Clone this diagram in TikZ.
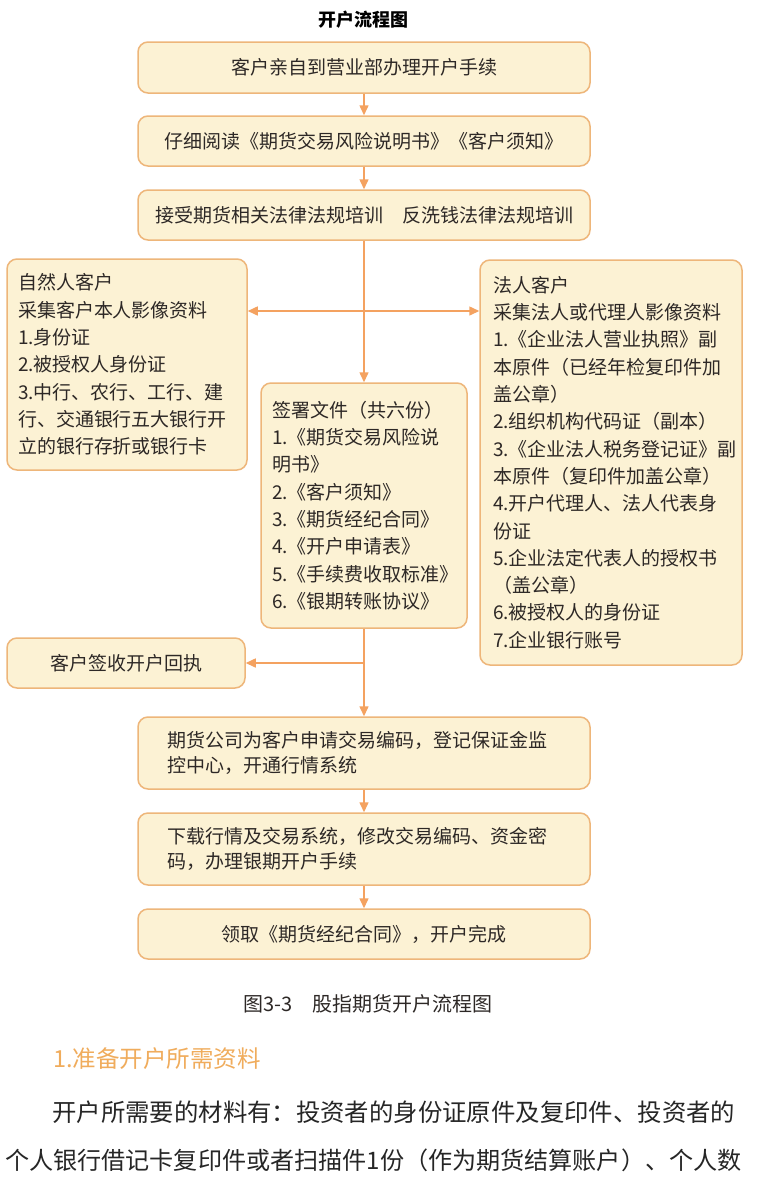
\documentclass[tikz,border=0pt]{standalone}
\usepackage{fontspec}
\setmainfont{Noto Sans CJK SC}
\usetikzlibrary{arrows.meta}
\definecolor{boxfill}{RGB}{252,242,212}
\definecolor{boxline}{RGB}{238,182,122}
\definecolor{arrowc}{RGB}{244,162,96}
\definecolor{txt}{RGB}{45,40,38}
\definecolor{headc}{RGB}{240,172,92}
\begin{document}
\begin{tikzpicture}[x=1pt,y=-1pt,
  box/.style={draw=boxline, fill=boxfill, line width=1.5pt, rounded corners=10pt,
    text=txt, font=\fontsize{19}{27.3}\selectfont, inner sep=0pt},
  arr/.style={draw=arrowc, line width=1.5pt, -{Triangle[length=10pt,width=9pt]}},
  ln/.style={draw=arrowc, line width=1.5pt}]
\useasboundingbox[fill=white] (0,0) rectangle (758,1189);

\node[font=\bfseries\fontsize{18}{18}\selectfont, text=black] (title) at (363,20) {开户流程图};

\node[box, minimum width=452, minimum height=51] (b1) at (364,67.5) {客户亲自到营业部办理开户手续};
\node[box, minimum width=452, minimum height=50] (b2) at (364,141) {仔细阅读《期货交易风险说明书》《客户须知》};
\node[box, minimum width=452, minimum height=50] (b3) at (364,215) {接受期货相关法律法规培训　反洗钱法律法规培训};

\node[box, minimum width=240, minimum height=211, text width=218, align=left] (nat) at (127,364.5)
  {自然人客户\\采集客户本人影像资料\\1.身份证\\2.被授权人身份证\\3.中行、农行、工行、建\\行、交通银行五大银行开\\立的银行存折或银行卡};

\node[box, minimum width=262, minimum height=405, text width=236, align=left] (legal) at (611,462.5)
  {法人客户\\采集法人或代理人影像资料\\1.《企业法人营业执照》副\\本原件（已经年检复印件加\\盖公章）\\2.组织机构代码证（副本）\\3.《企业法人税务登记证》副\\本原件（复印件加盖公章）\\4.开户代理人、法人代表身\\份证\\5.企业法定代表人的授权书\\（盖公章）\\6.被授权人的身份证\\7.企业银行账号};

\node[box, minimum width=206, minimum height=245, text width=184, align=left] (docs) at (364,505.5)
  {签署文件（共六份）\\1.《期货交易风险说\\明书》\\2.《客户须知》\\3.《期货经纪合同》\\4.《开户申请表》\\5.《手续费收取标准》\\6.《银期转账协议》};

\node[box, minimum width=238, minimum height=50] (sign) at (126,663) {客户签收开户回执};

\node[box, minimum width=452, minimum height=72, text width=394, align=left, font=\fontsize{19}{25.5}\selectfont] (b7) at (364,753)
  {期货公司为客户申请交易编码，登记保证金监\\控中心，开通行情系统};
\node[box, minimum width=452, minimum height=72, text width=394, align=left, font=\fontsize{19}{25.5}\selectfont] (b8) at (364,849)
  {下载行情及交易系统，修改交易编码、资金密\\码，办理银期开户手续};
\node[box, minimum width=452, minimum height=50] (b9) at (364,934) {领取《期货经纪合同》，开户完成};

\coordinate (j1) at (364,311);
\coordinate (j2) at (364,663);

\draw[arr] (b1) -- (b2);
\draw[arr] (b2) -- (b3);
\draw[arr] (b3) -- (docs);
\draw[arr] (j1) -- (j1 -| nat.east);
\draw[arr] (j1) -- (j1 -| legal.west);
\draw[arr] (docs) -- (b7);
\draw[arr] (j2) -- (sign.east);
\draw[arr] (b7) -- (b8);
\draw[arr] (b8) -- (b9);

\node[font=\fontsize{20}{20}\selectfont, text=txt, anchor=west, inner sep=0pt] (cap) at (243,1004) {图3-3\hspace{20pt}股指期货开户流程图};
\node[font=\fontsize{23.5}{23.5}\selectfont, text=headc, anchor=west, inner sep=0pt] (head) at (53,1059) {1.准备开户所需资料};
\node[font=\fontsize{24.4}{24.4}\selectfont, text=black!85, anchor=west, inner sep=0pt] (p1) at (52,1112) {开户所需要的材料有：投资者的身份证原件及复印件、投资者的};
\node[font=\fontsize{24.1}{24.1}\selectfont, text=black!85, anchor=west, inner sep=0pt] (p2) at (5,1160) {个人银行借记卡复印件或者扫描件1份（作为期货结算账户）、个人数};
\end{tikzpicture}
\end{document}
